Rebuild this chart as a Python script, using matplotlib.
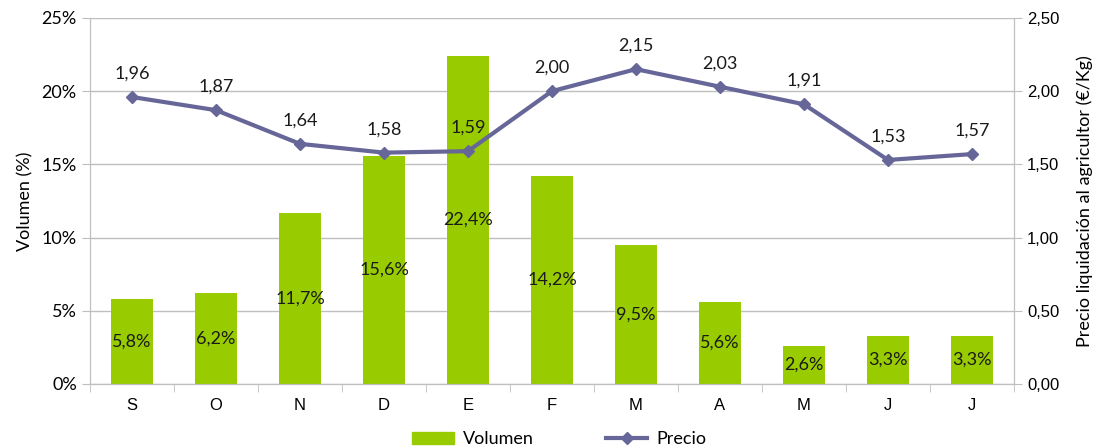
import numpy as np
import matplotlib.pyplot as plt
from matplotlib.lines import Line2D
from matplotlib.patches import Patch

meses = ['S', 'O', 'N', 'D', 'E', 'F', 'M', 'A', 'M', 'J', 'J']
volumen = [5.8, 6.2, 11.7, 15.6, 22.4, 14.2, 9.5, 5.6, 2.6, 3.3, 3.3]
precio = [1.96, 1.87, 1.64, 1.58, 1.59, 2.00, 2.15, 2.03, 1.91, 1.53, 1.57]

verde = '#99CC00'
morado = '#666699'
gris = '#BFBFBF'

plt.rcParams['font.family'] = ['Lato', 'DejaVu Sans']

fig = plt.figure(figsize=(11.01, 4.48), dpi=100)
ax = fig.add_axes([0.0817, 0.1429, 0.8393, 0.8171])
ax2 = ax.twinx()

x = np.arange(len(meses))
ax.bar(x, volumen, width=0.5, color=verde, zorder=2)
for xi, v in zip(x, volumen):
    ax.text(xi, v / 2, ('%.1f%%' % v).replace('.', ','), ha='center', va='center',
            fontsize=13, color='#1a1a1a', zorder=3)

ax.set_ylim(0, 25)
ax.set_xlim(-0.5, len(meses) - 0.5)
ax.set_yticks(np.arange(0, 26, 5))
ax.set_yticklabels(['%d%%' % t for t in range(0, 26, 5)], fontsize=13)
ax.yaxis.grid(True, color=gris, lw=1, zorder=0)
ax.set_axisbelow(True)
ax.set_ylabel('Volumen (%)', fontsize=13, labelpad=6)
ax.set_xticks(x)
ax.set_xticklabels(meses, fontsize=12, family='Liberation Sans')
ax.set_xticks(np.arange(-0.5, len(meses), 1), minor=True)
ax.tick_params(axis='x', which='major', length=0, pad=10)
ax.tick_params(axis='x', which='minor', length=6, color=gris)
ax.tick_params(axis='y', length=6, color=gris)
for s in ['top']:
    ax.spines[s].set_visible(False)
for s in ['left', 'bottom', 'right']:
    ax.spines[s].set_color(gris)

ax2.plot(x, precio, color=morado, lw=3, marker='D', markersize=6, zorder=4)
for xi, p in zip(x, precio):
    ax2.annotate(('%.2f' % p).replace('.', ','), (xi, p), xytext=(0, 11),
                 textcoords='offset points', ha='center', va='bottom',
                 fontsize=13, color='#1a1a1a')
ax2.set_ylim(0, 2.5)
ax2.set_yticks(np.arange(0, 2.51, 0.5))
ax2.set_yticklabels([('%.2f' % t).replace('.', ',') for t in np.arange(0, 2.51, 0.5)],
                    fontsize=12, family='Liberation Sans')
ax2.tick_params(axis='y', length=6, color=gris)
ax2.set_ylabel('Precio liquidación al agricultor (€/Kg)', fontsize=13, labelpad=12)
ax2.spines['top'].set_visible(False)
for s in ['left', 'bottom', 'right']:
    ax2.spines[s].set_color(gris)

handles = [Patch(color=verde, label='Volumen'),
           Line2D([], [], color=morado, lw=3, marker='D', markersize=6, label='Precio')]
fig.legend(handles=handles, loc='lower center', bbox_to_anchor=(0.508, -0.035), ncol=2,
           frameon=False, fontsize=13, handlelength=2.3, handletextpad=0.5,
           columnspacing=4)

fig.savefig('out.png', dpi=100)
